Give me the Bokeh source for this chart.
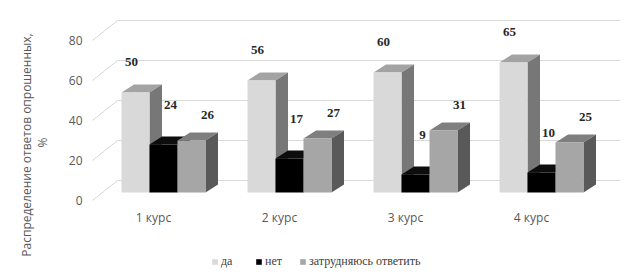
import math
from bokeh.plotting import figure
from bokeh.models import Range1d, Legend, LegendItem, ColumnDataSource
from bokeh.core.properties import value
from bokeh.embed import file_html
from bokeh.resources import INLINE

# ---- data ----
categories = ["1 курс", "2 курс", "3 курс", "4 курс"]
series_names = ["да", "нет", "затрудняюсь ответить"]
da = [50, 56, 60, 65]
net = [24, 17, 9, 10]
zatr = [26, 27, 31, 25]
y_ticks = [0, 20, 40, 60, 80]
y_title = "Распределение  ответов опрошенных,"
y_title2 = "%"

series = [da, net, zatr]
front_colors = ["#d9d9d9", "#000000", "#a6a6a6"]
top_colors = ["#a3a3a3", "#0d0d0d", "#7f7f7f"]
side_colors = ["#777777", "#000000", "#595959"]

# ---- geometry (pixel mapping helpers) ----
X0 = 37.0     # pixel of x=0
SX = 126.0    # pixels per group
Y0 = 192.0    # pixel (from top) of value 0 in bar plane
SY = 2.0      # pixels per unit

def ux(px):
    return (px - X0) / SX

def uy(py):
    return (Y0 - py) / SY

W, H = 635, 275
p = figure(width=W, height=H, output_backend="svg", toolbar_location=None,
           x_axis_type=None, y_axis_type=None, min_border=0,
           x_range=Range1d(ux(0), ux(W)), y_range=Range1d(uy(H), uy(0)))
p.outline_line_color = None
p.grid.visible = False
p.background_fill_color = "white"
p.border_fill_color = "white"

# ---- back wall gridlines and diagonal floor/side lines ----
back_dy = 6.0          # units: back wall above bar plane (12px)
front_dy = -4.0        # units: front plane below bar plane (8px)
xl_front, xl_back, xr_back = ux(92), ux(117), ux(620)
p.segment(x0=[xl_back] * len(y_ticks), y0=[t + back_dy for t in y_ticks],
          x1=[xr_back] * len(y_ticks), y1=[t + back_dy for t in y_ticks],
          line_color="#d9d9d9", line_width=1)
p.segment(x0=[xl_front] * len(y_ticks), y0=[t + front_dy for t in y_ticks],
          x1=[xl_back] * len(y_ticks), y1=[t + back_dy for t in y_ticks],
          line_color="#d9d9d9", line_width=1)

# tick labels
p.text(x=[ux(82)] * len(y_ticks), y=[t + front_dy for t in y_ticks],
       text=[str(t) for t in y_ticks], text_align="right", text_baseline="middle",
       text_font=value("Open Sans"), text_font_size="12px", text_color="#595959")

# axis title
p.text(x=[ux(26)], y=[uy(143)], text=[y_title], angle=math.pi / 2,
       text_align="center", text_baseline="middle",
       text_font=value("Open Sans"), text_font_size="12px", text_color="#595959")
p.text(x=[ux(42)], y=[uy(142)], text=[y_title2], angle=math.pi / 2,
       text_align="center", text_baseline="middle",
       text_font=value("Open Sans"), text_font_size="12px", text_color="#595959")

# ---- 3D bars ----
bw = 28.0 / SX
ddx = 12.5 / SX
ddy = 4.0
label_off = [(-4, 31), (7, 40), (16, 26)]   # px offsets for data labels
front_renderers = []
for gi in range(len(categories)):
    gx = gi + 1
    for si, vals in enumerate(series):
        v = vals[gi]
        left = gx + (si - 1.5) * bw
        right = left + bw
        # top face
        p.patch(x=[left, right, right + ddx, left + ddx],
                y=[v, v, v + ddy, v + ddy],
                fill_color=top_colors[si], line_color=None)
        # side face
        p.patch(x=[right, right + ddx, right + ddx, right],
                y=[0, ddy, v + ddy, v],
                fill_color=side_colors[si], line_color=None)

for si, vals in enumerate(series):
    lefts = [gi + 1 + (si - 1.5) * bw for gi in range(len(categories))]
    rights = [l + bw for l in lefts]
    src = ColumnDataSource(dict(left=lefts, right=rights, top=vals, bottom=[0] * len(vals)))
    r = p.quad(left="left", right="right", top="top", bottom="bottom", source=src,
               fill_color=front_colors[si], line_color=None)
    front_renderers.append(r)

# data labels (draw after all bars)
for si, vals in enumerate(series):
    dxp, dyp = label_off[si]
    xs = [gi + 1 + (si - 1) * bw + dxp / SX for gi in range(len(categories))]
    ys = [v + dyp / SY for v in vals]
    p.text(x=xs, y=ys, text=[str(v) for v in vals], text_align="center",
           text_baseline="middle", text_font=value("Liberation Serif"),
           text_font_style="bold", text_font_size="13px", text_color="#262626")

# category labels
p.text(x=[gi + 1 - 10 / SX for gi in range(len(categories))],
       y=[uy(217)] * len(categories), text=categories,
       text_align="center", text_baseline="middle",
       text_font=value("Open Sans"), text_font_size="12px", text_color="#595959")

# ---- legend ----
legend = Legend(items=[LegendItem(label=series_names[i], renderers=[front_renderers[i]])
                       for i in range(3)],
                orientation="horizontal", location=(211, 6),
                glyph_width=7, glyph_height=7, label_standoff=3, spacing=14,
                padding=0, margin=0, label_height=12,
                label_text_font="Liberation Serif", label_text_font_size="12px",
                label_text_color="#404040", border_line_color=None,
                background_fill_alpha=0)
p.add_layout(legend, "center")

open("out.html", "w").write(file_html(p, INLINE))
